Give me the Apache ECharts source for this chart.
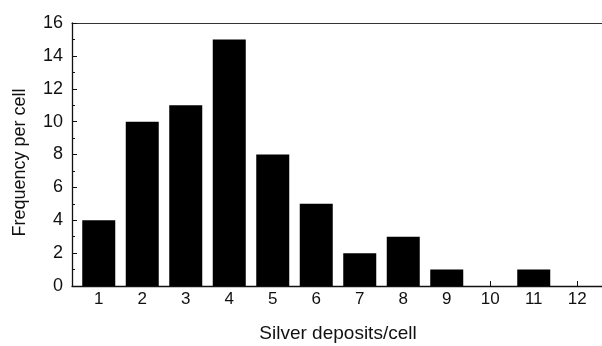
<!DOCTYPE html>
<html>
<head>
<meta charset="utf-8">
<script src="https://cdn.jsdelivr.net/npm/echarts@6/dist/echarts.min.js"></script>
<style>
html,body{margin:0;padding:0;background:#fff;}
#chart{width:602px;height:346px;}
</style>
</head>
<body>
<div id="chart"></div>
<script>
const categories = ['1','2','3','4','5','6','7','8','9','10','11','12'];
const frequency = [4, 10, 11, 15, 8, 5, 2, 3, 1, 0, 1, 0];
const yMin = 0, yMax = 16, yStep = 2;
const xTitle = 'Silver deposits/cell';
const yTitle = 'Frequency per cell';

const FONT = 'Liberation Sans, Arial, sans-serif';
const INK = '#111';

const chart = echarts.init(document.getElementById('chart'), null, {renderer: 'canvas'});
chart.setOption({
  animation: false,
  backgroundColor: '#fff',
  grid: [
    {left: 72, right: 0, top: 23, bottom: 60, containLabel: false, outerBoundsMode: 'none'},
    {left: 77, right: 3, top: 23, bottom: 60, containLabel: false, outerBoundsMode: 'none'}
  ],
  xAxis: [
    {gridIndex: 0, type: 'value', min: 0, max: 1, position: 'bottom',
     axisLine: {show: true, lineStyle: {color: INK, width: 1.3}},
     axisTick: {show: false}, axisLabel: {show: false}, splitLine: {show: false}},
    {gridIndex: 0, type: 'value', min: 0, max: 1, position: 'top',
     axisLine: {show: true, lineStyle: {color: '#333', width: 1.2}},
     axisTick: {show: false}, axisLabel: {show: false}, splitLine: {show: false}},
    {gridIndex: 1, type: 'category', data: categories, position: 'bottom',
     axisLine: {show: false},
     axisTick: {show: true, inside: true, alignWithLabel: true, length: 5, lineStyle: {color: INK, width: 1}},
     axisLabel: {color: INK, fontFamily: FONT, fontSize: 17, margin: 5},
     name: xTitle, nameLocation: 'middle', nameGap: 38,
     nameTextStyle: {color: INK, fontFamily: FONT, fontSize: 19}}
  ],
  yAxis: [
    {gridIndex: 0, type: 'value', min: yMin, max: yMax, interval: yStep,
     axisLine: {show: true, lineStyle: {color: INK, width: 1.3}},
     axisTick: {show: true, inside: true, length: 5, lineStyle: {color: INK}},
     minorTick: {show: true, splitNumber: 2, length: 3, lineStyle: {color: INK}},
     splitLine: {show: false},
     axisLabel: {color: INK, fontFamily: FONT, fontSize: 18, margin: 9},
     name: yTitle, nameLocation: 'middle', nameGap: 43, nameRotate: 90,
     nameTextStyle: {color: INK, fontFamily: FONT, fontSize: 18, padding: [0, 16, 0, 0]}},
    {gridIndex: 1, type: 'value', min: yMin, max: yMax, show: false}
  ],
  series: [{
    type: 'bar',
    xAxisIndex: 2,
    yAxisIndex: 1,
    data: frequency,
    barWidth: 33,
    itemStyle: {color: '#000'}
  }]
});
</script>
</body>
</html>
